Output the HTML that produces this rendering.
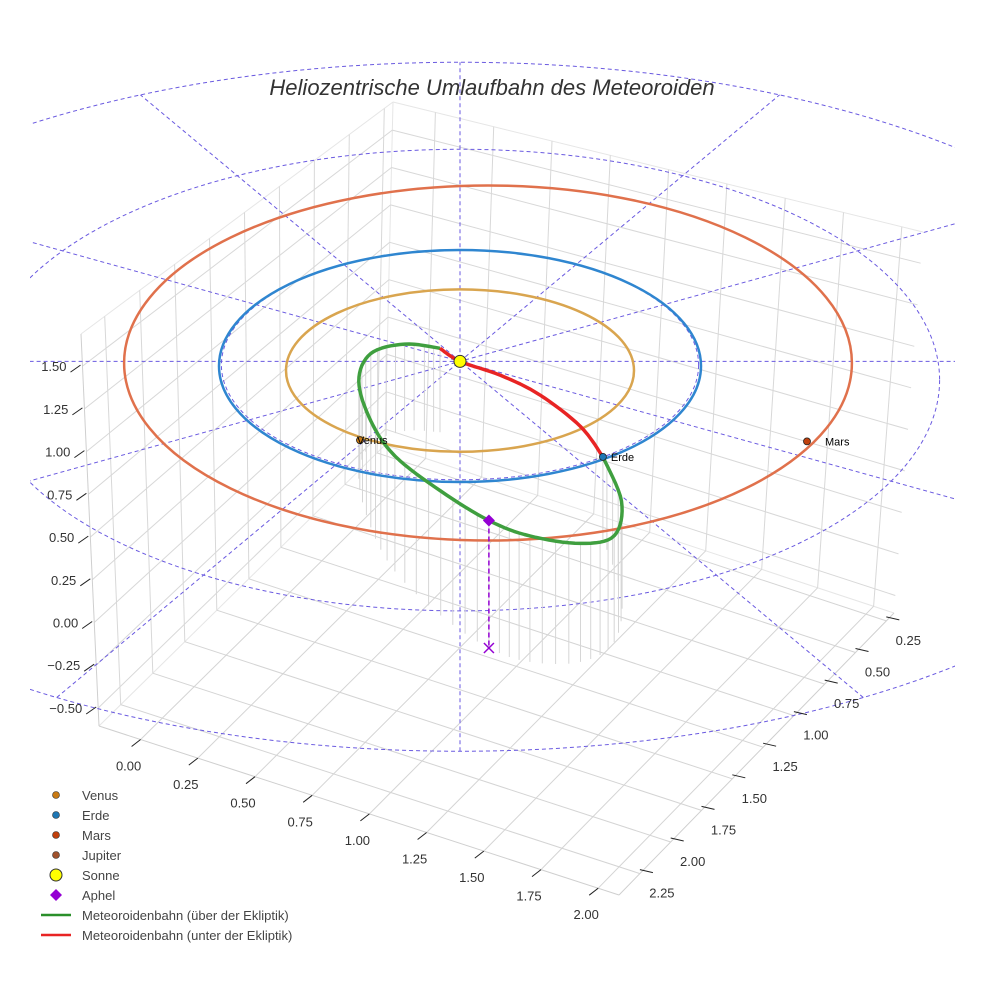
<!DOCTYPE html>
<html><head><meta charset="utf-8"><style>
html,body{margin:0;padding:0;background:#fff;}
svg{display:block;font-family:"Liberation Sans",sans-serif;}
</style></head><body>
<svg id="c" width="984" height="984" viewBox="0 0 984 984" xmlns="http://www.w3.org/2000/svg">
<rect width="984" height="984" fill="#fff"/>
<g id="grid"></g>
<g id="polar"></g>
<g id="drops"></g>
<g id="orbits"></g>
<g id="met"></g>
<g id="marks"></g>
<g id="axes"></g>
<text x="492" y="95" text-anchor="middle" font-size="22" font-style="italic" fill="#333">Heliozentrische Umlaufbahn des Meteoroiden</text>
<g id="legend"></g>
</svg>
<script>
// ---- data ----
const xTicks = [0, 0.25, 0.5, 0.75, 1.0, 1.25, 1.5, 1.75, 2.0];
const yTicks = [0.25, 0.5, 0.75, 1.0, 1.25, 1.5, 1.75, 2.0, 2.25];
const zTicks = [-0.5, -0.25, 0, 0.25, 0.5, 0.75, 1.0, 1.25, 1.5];
const xTickLabels = ["0.00","0.25","0.50","0.75","1.00","1.25","1.50","1.75","2.00"];
const yTickLabels = ["0.25","0.50","0.75","1.00","1.25","1.50","1.75","2.00","2.25"];
const zTickLabels = ["\u22120.50","\u22120.25","0.00","0.25","0.50","0.75","1.00","1.25","1.50"];
const planetNames = ["Venus","Erde","Mars"];
const orbitA = [0.722, 1.0, 1.51];
const orbitB = [0.70, 1.0, 1.53];
const orbitCX = [0, 0, 0.116];
const orbitCY = [-0.04, 0, 0.026];
const planetX = [-0.415, 0.593, 1.44];
const planetY = [-0.64, -0.784, -0.65];
const sunPos = [0, 0.04, 0];
// meteoroid orbit (AU, ecliptic coords + height)
const redX = [-0.083, 0, 0.17, 0.33, 0.50, 0.593];
const redY = [0.14, 0.04, -0.03, -0.17, -0.47, -0.784];
const redZ = [0.01, 0, -0.04, -0.06, -0.04, 0];
const greenX = [0.593, 0.67, 0.64, 0.50, 0.29, 0.12, -0.08, -0.27, -0.37, -0.42, -0.37, -0.23, -0.083];
const greenY = [-0.784, -1.27, -1.67, -1.84, -1.84, -1.72, -1.44, -1.06, -0.68, -0.26, 0.03, 0.15, 0.14];
const greenZ = [0, 0.08, 0.16, 0.24, 0.29, 0.30, 0.28, 0.22, 0.16, 0.10, 0.06, 0.03, 0.01];
const aphel = [0.12, -1.72, 0.30];
const floorZ = -0.55;
const polarAngles = [0, 30, 60, 90, 120, 150];
const polarRings = [1.0, 2.0, 3.0];

// ---- projection ----
const CX = 460, CY = 366, KX = 241, KY = 116, KZ = 150;
function proj(X, Y, Z){ return [CX + KX*X, CY - KY*Y - KZ*(Z||0)]; }
const L=[99,726],F=[619,895],B=[385,445],R=[894,613];
const TL=[81,334],TB=[393,102],TR=[923,232];
function lerp(a,b,t){return [a[0]+(b[0]-a[0])*t, a[1]+(b[1]-a[1])*t];}
function floorPt(u,w){
  return [L[0]+u*(F[0]-L[0])+w*(B[0]-L[0])+u*w*(R[0]-F[0]-B[0]+L[0]),
          L[1]+u*(F[1]-L[1])+w*(B[1]-L[1])+u*w*(R[1]-F[1]-B[1]+L[1])];
}
function xu(x){return 0.08 + x/0.25*0.11;}
function yw(y){return 0.076 + (2.25-y)/0.25*0.112;}
function zh(z){return 0.046 + (z+0.5)/0.25*0.109;}
function leftWall(w,h){const b=floorPt(0,w), t=lerp(TL,TB,w); return lerp(b,t,h);}
function rightWall(u,h){const b=floorPt(u,1), t=lerp(TB,TR,u); return lerp(b,t,h);}

const NS="http://www.w3.org/2000/svg";
function mk(parent, tag, attrs){
  const e=document.createElementNS(NS,tag);
  for(const k in attrs) e.setAttribute(k, attrs[k]);
  parent.appendChild(e); return e;
}
function line(g,a,b,stroke,w,extra){
  return mk(g,'line',Object.assign({x1:a[0].toFixed(1),y1:a[1].toFixed(1),x2:b[0].toFixed(1),y2:b[1].toFixed(1),stroke:stroke,'stroke-width':w},extra||{}));
}

// ---- grid ----
const grid=document.getElementById('grid');
[[floorPt(0,0),floorPt(0,1)],[floorPt(0,1),TB],[floorPt(0,1),floorPt(1,1)],[TL,TB],[TB,TR]].forEach(p=>{
  const e=line(grid,p[0],p[1],'#e6e6e6',1);
  
  
});
xTicks.forEach(x=>{
  const u=xu(x);
  const e=line(grid,floorPt(u,0),floorPt(u,1),'#d4d4d4',1);
  
  
  const e2=line(grid,rightWall(u,0),rightWall(u,1),'#d8d8d8',1);
  
  
});
yTicks.forEach(y=>{
  const w=yw(y);
  const e=line(grid,floorPt(0,w),floorPt(1,w),'#d4d4d4',1);
  
  
  const e2=line(grid,leftWall(w,0),leftWall(w,1),'#d8d8d8',1);
  
  
});
zTicks.forEach(z=>{
  const h=zh(z);
  const e=line(grid,leftWall(0,h),leftWall(1,h),'#d8d8d8',1);
  
  
  const e2=line(grid,rightWall(0,h),rightWall(1,h),'#d8d8d8',1);
  
  
});
[[L,F],[F,R]].forEach(p=>{
  const e=line(grid,p[0],p[1],'#cfcfcf',1);
  
  
});
const eL=line(grid,L,TL,'#cfcfcf',1);



// ---- axes ticks/labels ----
const axes=document.getElementById('axes');
xTicks.forEach((x,i)=>{
  const p=floorPt(xu(x),0);
  const t=line(axes,[p[0]-9,p[1]+7],[p[0],p[1]],'#222',1);
  
  
  const tx=mk(axes,'text',{x:(p[0]-12).toFixed(1),y:(p[1]+31).toFixed(1),'text-anchor':'middle','font-size':13,fill:'#333'});
  tx.textContent=xTickLabels[i];
  
  
});
yTicks.forEach((y,i)=>{
  const p=floorPt(1,yw(y));
  const t=line(axes,[p[0],p[1]-4],[p[0]+13,p[1]-1],'#222',1);
  
  
  const tx=mk(axes,'text',{x:(p[0]+22).toFixed(1),y:(p[1]+24).toFixed(1),'text-anchor':'middle','font-size':13,fill:'#333'});
  tx.textContent=yTickLabels[i];
  
  
});
zTicks.forEach((z,i)=>{
  const p=lerp(L,TL,zh(z));
  const t=line(axes,[p[0]-12,p[1]+6],[p[0]-2,p[1]-1],'#222',1);
  
  
  const tx=mk(axes,'text',{x:(p[0]-16).toFixed(1),y:(p[1]+5).toFixed(1),'text-anchor':'end','font-size':13,fill:'#333'});
  tx.textContent=zTickLabels[i];
  
  
});

// ---- polar ecliptic grid (dashed) ----
const polar=document.getElementById('polar');
const defs=mk(document.getElementById('c'),'defs',{});
const cp=mk(defs,'clipPath',{id:'pclip'});
mk(cp,'rect',{x:30,y:0,width:925,height:984});
polar.setAttribute('clip-path','url(#pclip)');
const ringCY=[0, -0.13, -0.36], ringB=[0.99, 1.99, 2.97], ringA=[0.99, 1.99, 3.12];
polarRings.forEach((r,i)=>{
  const c=proj(0,ringCY[i]);
  const e=mk(polar,'ellipse',{cx:c[0],cy:c[1]-1,rx:(KX*ringA[i]).toFixed(1),ry:(KY*ringB[i]).toFixed(1),fill:'none',stroke:'#6a5ae0','stroke-width':1,'stroke-dasharray':'4,3'});
  
  
});
const oc=proj(0,ringCY[2]); const ocx=oc[0], ocy=oc[1]-1, orx=KX*ringA[2], ory=KY*ringB[2];
const sS=proj(sunPos[0],sunPos[1],0);
function hitOuter(dx,dy){
  const px=sS[0]-ocx, py=sS[1]-ocy;
  const a=dx*dx/(orx*orx)+dy*dy/(ory*ory);
  const b=2*(px*dx/(orx*orx)+py*dy/(ory*ory));
  const c=px*px/(orx*orx)+py*py/(ory*ory)-1;
  const t=(-b+Math.sqrt(b*b-4*a*c))/(2*a);
  return [sS[0]+t*dx, sS[1]+t*dy];
}
polarAngles.forEach(a=>{
  const t=a*Math.PI/180;
  const dx=Math.cos(t)*KX, dy=-Math.sin(t)*KY;
  const e=line(polar,hitOuter(-dx,-dy),hitOuter(dx,dy),'#6a5ae0',1,{'stroke-dasharray':'4,3'});
  
  
});

// ---- planet orbits ----
const orbits=document.getElementById('orbits');
const orbitColors=['#d9a54f','#2f86d0','#e0714c'];
orbitA.forEach((a,i)=>{
  const c=proj(orbitCX[i],orbitCY[i]);
  const e=mk(orbits,'ellipse',{cx:c[0].toFixed(1),cy:c[1].toFixed(1),rx:(KX*a).toFixed(1),ry:(KY*orbitB[i]).toFixed(1),fill:'none',stroke:orbitColors[i],'stroke-width':2.5});
  
  
});

// ---- meteoroid ----
function spline(X,Y,Z,n){
  const out=[];
  const N=X.length;
  for(let i=0;i<N-1;i++){
    const i0=Math.max(0,i-1), i3=Math.min(N-1,i+2);
    for(let k=0;k<n;k++){
      const t=k/n,t2=t*t,t3=t2*t;
      const f=(p)=>0.5*((2*p[i])+(-p[i0]+p[i+1])*t+(2*p[i0]-5*p[i]+4*p[i+1]-p[i3])*t2+(-p[i0]+3*p[i]-3*p[i+1]+p[i3])*t3);
      out.push([f(X),f(Y),f(Z)]);
    }
  }
  out.push([X[N-1],Y[N-1],Z[N-1]]);
  return out;
}
const met=document.getElementById('met');
const drops=document.getElementById('drops');
const gpts=spline(greenX,greenY,greenZ,8);
gpts.forEach((p,i)=>{
  if(i%2) return;
  const a=proj(p[0],p[1],p[2]), b=proj(p[0],p[1],floorZ);
  const e=line(drops,a,b,'#d6d6d6',1);
  
  
});
function pathOf(pts){return pts.map((p,i)=>{const s=proj(p[0],p[1],p[2]);return (i?'L':'M')+s[0].toFixed(1)+','+s[1].toFixed(1);}).join('');}
const gp=mk(met,'path',{d:pathOf(gpts),fill:'none',stroke:'#3f9f3f','stroke-width':3.5,'stroke-linejoin':'round'});


const rp=mk(met,'path',{d:pathOf(spline(redX,redY,redZ,8)),fill:'none',stroke:'#e82424','stroke-width':3.5,'stroke-linejoin':'round'});



// ---- markers ----
const marks=document.getElementById('marks');
const ap=proj(aphel[0],aphel[1],aphel[2]), af=proj(aphel[0],aphel[1],floorZ);
const al=line(marks,ap,af,'#9400d3',1.5,{'stroke-dasharray':'5,3'});


const ax=mk(marks,'path',{d:`M${af[0]-5},${af[1]-5}L${af[0]+5},${af[1]+5}M${af[0]+5},${af[1]-5}L${af[0]-5},${af[1]+5}`,stroke:'#9400d3','stroke-width':1.5});


const ad=mk(marks,'path',{d:`M${ap[0]},${ap[1]-6}L${ap[0]+6},${ap[1]}L${ap[0]},${ap[1]+6}L${ap[0]-6},${ap[1]}Z`,fill:'#9400d3'});


const sun=mk(marks,'circle',{cx:sS[0],cy:sS[1],r:6,fill:'#ffff00',stroke:'#333','stroke-width':1});


const planetFill=['#c87a14','#1f77b4','#c0400c'];
planetNames.forEach((n,i)=>{
  const p=proj(planetX[i],planetY[i],0);
  const c=mk(marks,'circle',{cx:p[0].toFixed(1),cy:p[1].toFixed(1),r:3.5,fill:planetFill[i],stroke:'#222','stroke-width':0.8});
  
  
  const t=mk(marks,'text',{x:(p[0]+(i==0?-3:i==1?8:18)).toFixed(1),y:(p[1]+4).toFixed(1),'font-size':11,fill:'#000'});
  t.textContent=n;
  
  
});

// ---- legend ----
const legend=document.getElementById('legend');
const legNames=["Venus","Erde","Mars","Jupiter","Sonne","Aphel","Meteoroidenbahn (über der Ekliptik)","Meteoroidenbahn (unter der Ekliptik)"];
const legColors=['#c87a14','#1f77b4','#c0400c','#a0522d','#ffff00','#9400d3','#2a8f2a','#e82424'];
legNames.forEach((n,i)=>{
  const y=795+i*20;
  const g=mk(legend,'g',{});
  
  
  if(i<4){ mk(g,'circle',{cx:56,cy:y,r:3.5,fill:legColors[i],stroke:'#333','stroke-width':0.6}); }
  else if(i==4){ mk(g,'circle',{cx:56,cy:y,r:6,fill:legColors[i],stroke:'#333','stroke-width':1}); }
  else if(i==5){ mk(g,'path',{d:`M56,${y-6}L62,${y}L56,${y+6}L50,${y}Z`,fill:legColors[i]}); }
  else { mk(g,'line',{x1:41,y1:y,x2:71,y2:y,stroke:legColors[i],'stroke-width':2.5}); }
  const t=mk(g,'text',{x:82,y:y+5,'font-size':13,fill:'#444'});
  t.textContent=n;
});
</script>
</body></html>
